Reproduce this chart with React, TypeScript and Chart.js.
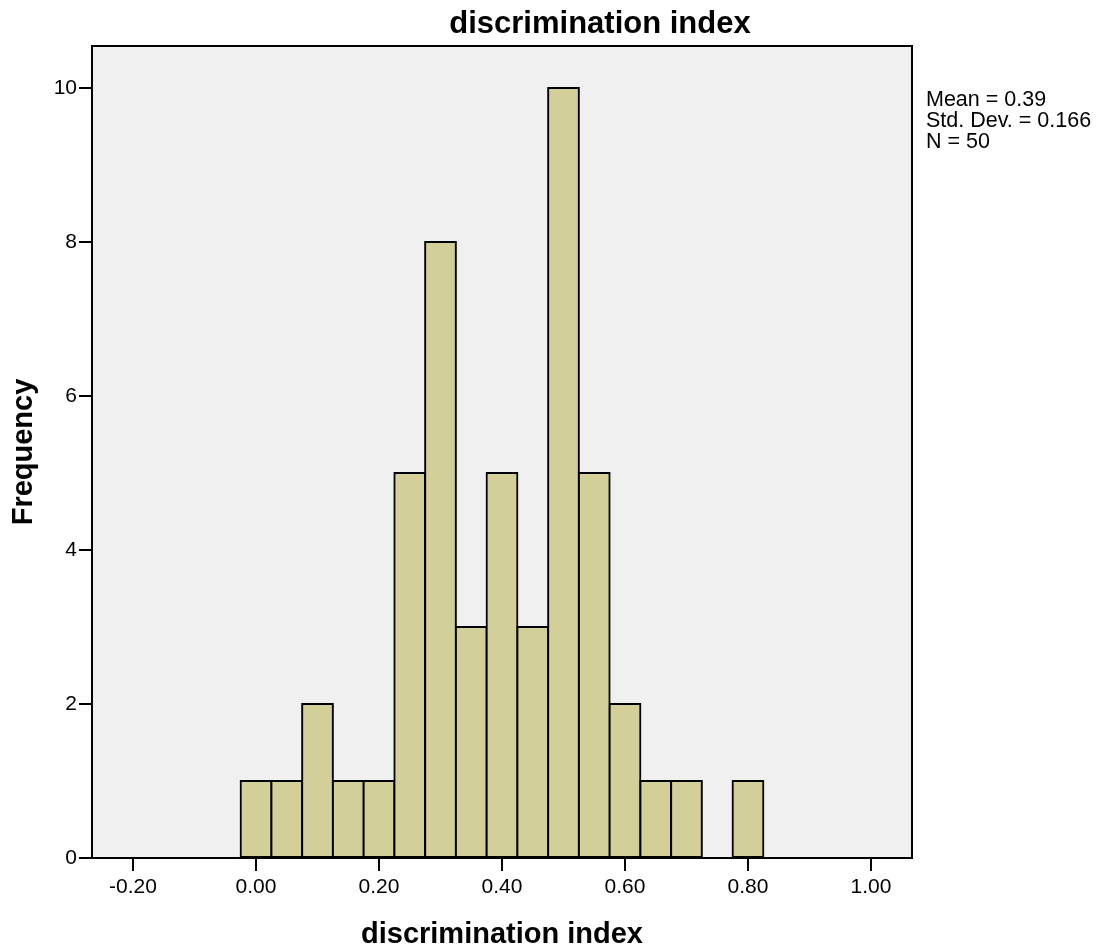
import React, { useEffect, useRef } from "react";
import { Chart, registerables } from "chart.js";

Chart.register(...registerables);

const binCenters = [0.0, 0.05, 0.1, 0.15, 0.2, 0.25, 0.3, 0.35, 0.4, 0.45, 0.5, 0.55, 0.6, 0.65, 0.7, 0.75, 0.8];
const frequencies = [1, 1, 2, 1, 1, 5, 8, 3, 5, 3, 10, 5, 2, 1, 1, 0, 1];
const xTickValues = [-0.2, 0.0, 0.2, 0.4, 0.6, 0.8, 1.0];
const yTickValues = [0, 2, 4, 6, 8, 10];
const statsLines = ["Mean = 0.39", "Std. Dev. = 0.166", "N = 50"];
const chartTitle = "discrimination index";
const xAxisTitle = "discrimination index";
const yAxisTitle = "Frequency";

const FONT = '"Liberation Sans", Arial, Helvetica, sans-serif';
const W = 1097;
const H = 947;

const decorPlugin = {
  id: "decor",
  beforeDraw(chart: any) {
    const { ctx, chartArea: a } = chart;
    ctx.save();
    ctx.fillStyle = "#ffffff";
    ctx.fillRect(0, 0, chart.width, chart.height);
    ctx.fillStyle = "#F0F0F0";
    ctx.fillRect(a.left, a.top, a.right - a.left, a.bottom - a.top);
    ctx.restore();
  },
  afterDatasetsDraw(chart: any) {
    const { ctx, chartArea: a } = chart;
    ctx.save();
    ctx.strokeStyle = "#000";
    ctx.lineWidth = 2;
    ctx.strokeRect(a.left, a.top, a.right - a.left, a.bottom - a.top);
    ctx.restore();
  },
  afterDraw(chart: any) {
    const { ctx, chartArea: a } = chart;
    ctx.save();
    ctx.fillStyle = "#000";
    // main title
    ctx.font = `bold 31px ${FONT}`;
    ctx.textAlign = "center";
    ctx.textBaseline = "alphabetic";
    ctx.fillText(chartTitle, 600, 33);
    // x axis title
    ctx.font = `bold 29px ${FONT}`;
    ctx.fillText(xAxisTitle, (a.left + a.right) / 2, 943);
    // y axis title
    ctx.save();
    ctx.translate(32, (a.top + a.bottom) / 2);
    ctx.rotate(-Math.PI / 2);
    ctx.fillText(yAxisTitle, 0, 0);
    ctx.restore();
    // stats
    ctx.font = `21.5px ${FONT}`;
    ctx.textAlign = "left";
    statsLines.forEach((line, i) => {
      ctx.fillText(line, 926, 106 + i * 21);
    });
    ctx.restore();
  },
};

export default function App() {
  const ref = useRef<HTMLCanvasElement | null>(null);

  useEffect(() => {
    if (!ref.current) return;
    const chart = new Chart(ref.current, {
      type: "bar",
      data: {
        datasets: [
          {
            data: binCenters.map((x, i) => ({ x, y: frequencies[i] })),
            backgroundColor: "#D3CF99",
            borderColor: "#000000",
            borderWidth: 2,
            borderSkipped: false,
            inflateAmount: 1,
            barPercentage: 1,
            categoryPercentage: 1,
          } as any,
        ],
      },
      options: {
        animation: false,
        responsive: false,
        maintainAspectRatio: false,
        devicePixelRatio: 1,
        layout: { padding: { left: 0, top: 46, right: 185, bottom: 0 } },
        plugins: {
          legend: { display: false },
          title: { display: false },
          tooltip: { enabled: false },
        },
        scales: {
          x: {
            type: "linear",
            min: -0.2667,
            max: 1.0667,
            offset: false,
            afterBuildTicks: (s: any) => {
              s.ticks = xTickValues.map((v) => ({ value: v }));
            },
            afterFit: (s: any) => {
              s.height = 89;
            },
            ticks: {
              color: "#000",
              font: { family: FONT, size: 21 },
              padding: 4,
              maxRotation: 0,
              autoSkip: false,
              callback: (v: any) => Number(v).toFixed(2),
            },
            grid: {
              display: true,
              offset: false,
              drawOnChartArea: false,
              drawTicks: true,
              tickLength: 13,
              color: "#000",
              lineWidth: 2,
            },
            border: { display: false },
          },
          y: {
            type: "linear",
            min: 0,
            max: 10.545,
            afterBuildTicks: (s: any) => {
              s.ticks = yTickValues.map((v) => ({ value: v }));
            },
            afterFit: (s: any) => {
              s.width = 92;
            },
            ticks: {
              color: "#000",
              font: { family: FONT, size: 21 },
              padding: 2,
              autoSkip: false,
            },
            grid: {
              display: true,
              offset: false,
              drawOnChartArea: false,
              drawTicks: true,
              tickLength: 13,
              color: "#000",
              lineWidth: 2,
            },
            border: { display: false },
          },
        },
      } as any,
      plugins: [decorPlugin],
    });
    return () => chart.destroy();
  }, []);

  return (
    <div style={{ position: "fixed", left: 0, top: 0, width: W, height: H, background: "#fff" }}>
      <canvas ref={ref} width={W} height={H} style={{ width: W, height: H, display: "block" }} />
    </div>
  );
}
